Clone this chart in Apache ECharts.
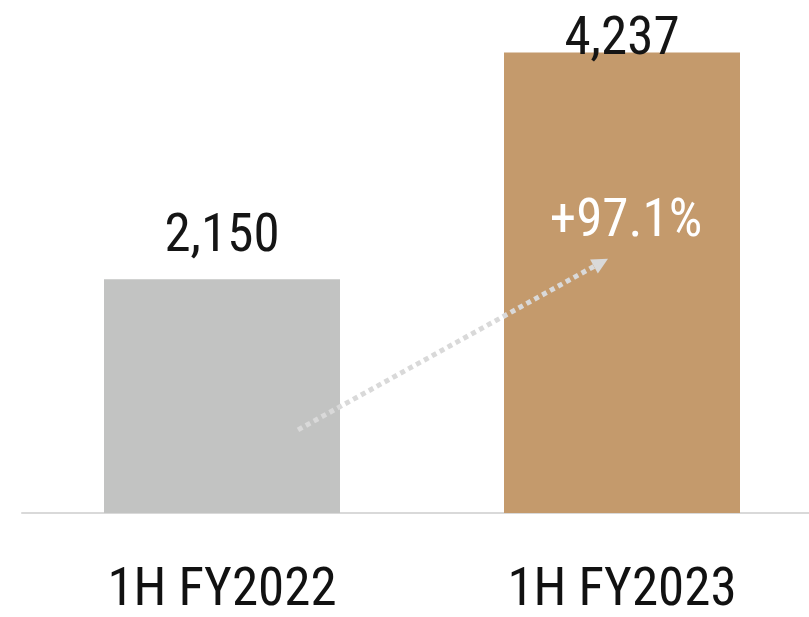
<!DOCTYPE html>
<html>
<head>
<meta charset="utf-8">
<script src="https://cdn.jsdelivr.net/npm/echarts@6/dist/echarts.min.js"></script>
<style>
  html, body { margin: 0; padding: 0; background: #ffffff; }
  #chart { width: 809px; height: 617px; }
</style>
</head>
<body>
<div id="chart"></div>
<script>
// Half-year totals
const categories = ['1H FY2022', '1H FY2023'];
const values = [2150, 4237];
const barColors = ['#c2c3c2', '#c49a6c'];
const growthLabel = '+97.1%';

const FONT = "'Roboto Condensed', 'Liberation Sans Narrow', 'DejaVu Sans Condensed', sans-serif";

const chart = echarts.init(document.getElementById('chart'), null, { renderer: 'canvas' });

// per-bar label gap above the bar top
const labelDistance = [15, -15];

chart.setOption({
  animation: false,
  backgroundColor: '#ffffff',
  grid: { left: 22, right: -13, top: 13, bottom: 104, containLabel: false, outerBoundsMode: 'none' },
  xAxis: {
    type: 'category',
    data: categories,
    axisLine: { show: true, lineStyle: { color: '#d9d9d9', width: 2 } },
    axisTick: { show: false },
    axisLabel: {
      color: '#111111',
      fontFamily: FONT,
      fontSize: 53,
      margin: 52
    }
  },
  yAxis: {
    type: 'value',
    min: 0,
    max: 4600,
    show: false,
    splitLine: { show: false }
  },
  series: [{
    type: 'bar',
    barWidth: 236,
    data: values.map((v, i) => ({
      value: v,
      itemStyle: { color: barColors[i] },
      label: {
        show: true,
        position: 'top',
        distance: labelDistance[i],
        formatter: (p) => p.value.toLocaleString('en-US'),
        color: '#151515',
        fontFamily: FONT,
        fontSize: 53
      }
    }))
  }]
});

// Growth arrow from the first bar into the second, plus the growth rate
function drawArrow() {
  const yAt = (v) => chart.convertToPixel({ yAxisIndex: 0 }, v);
  const xAt = (c) => chart.convertToPixel({ xAxisIndex: 0 }, c);
  const x0 = xAt(categories[0]) + 76;
  const y0 = yAt(765);
  const x1 = xAt(categories[1]) - 14;
  const y1 = yAt(2340);
  const ang = Math.atan2(y1 - y0, x1 - x0);
  const head = 16;
  const bx = x1 - head * Math.cos(ang), by = y1 - head * Math.sin(ang);
  const px = -Math.sin(ang) * 8, py = Math.cos(ang) * 8;
  chart.setOption({
    graphic: [
      {
        type: 'line',
        shape: { x1: x0, y1: y0, x2: bx, y2: by },
        style: { stroke: '#d9d9d9', lineWidth: 5, lineDash: [5, 4] },
        z: 10
      },
      {
        type: 'polygon',
        shape: { points: [[x1, y1], [bx + px, by + py], [bx - px, by - py]] },
        style: { fill: '#d9d9d9' },
        z: 10
      },
      {
        type: 'text',
        x: xAt(categories[1]) + 4,
        y: yAt(2700) + 3,
        style: {
          text: growthLabel,
          fill: '#ffffff',
          font: '53px ' + FONT,
          textAlign: 'center',
          textVerticalAlign: 'middle'
        },
        z: 10
      }
    ]
  });
}
drawArrow();
</script>
</body>
</html>
